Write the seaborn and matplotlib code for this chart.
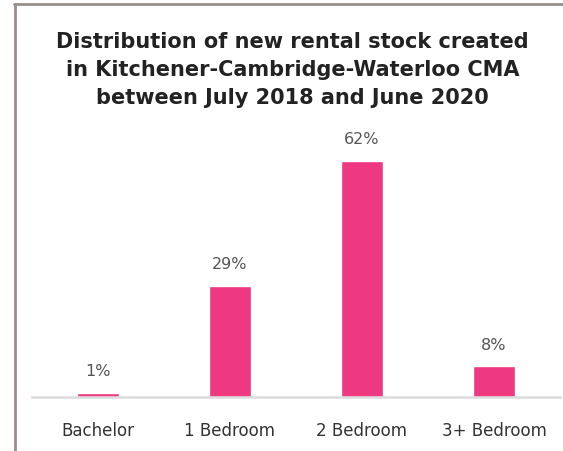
import matplotlib.pyplot as plt
import seaborn as sns
import pandas as pd
from matplotlib.lines import Line2D

# Data
unit_types = ["Bachelor", "1 Bedroom", "2 Bedroom", "3+ Bedroom"]
shares = [1.0, 29, 62, 8]
share_labels = ["1%", "29%", "62%", "8%"]

df = pd.DataFrame({"type": unit_types, "share": shares})

sns.set_style("white")
plt.rcParams['font.family'] = ['DejaVu Sans']

fig = plt.figure(figsize=(5.63, 4.51), dpi=100)
ax = fig.add_axes([32 / 563, 1 - 397 / 451, 528 / 563, 267 / 451])

sns.barplot(data=df, x="type", y="share", color="#EF3882", width=0.32,
            saturation=1, ax=ax)

for i, (v, lab) in enumerate(zip(shares, share_labels)):
    ax.annotate(lab, (i, v), xytext=(0, 10), textcoords="offset points",
                ha="center", va="bottom", fontsize=11.5, color="#555555")

ax.set_xlim(-0.5, 3.5)
ax.set_ylim(0, 70)
ax.set_xlabel("")
ax.set_ylabel("")
ax.set_yticks([])
for s in ["top", "right", "left"]:
    ax.spines[s].set_visible(False)
ax.spines["bottom"].set_color("#dcdcdc")
ax.spines["bottom"].set_linewidth(1.8)
ax.tick_params(axis="x", length=0, pad=18, labelsize=12, labelcolor="#333333")

fig.text(0.52, 1 - 32 / 451,
         "Distribution of new rental stock created\n"
         "in Kitchener-Cambridge-Waterloo CMA\n"
         "between July 2018 and June 2020",
         ha="center", va="top", fontsize=15, fontweight="bold",
         color="#222222", linespacing=1.5)

# frame lines
fig.add_artist(Line2D([15 / 563, 15 / 563], [0, 1 - 4 / 451],
                      transform=fig.transFigure, color="#9b8e8e", lw=2))
fig.add_artist(Line2D([14 / 563, 1], [1 - 4 / 451, 1 - 4 / 451],
                      transform=fig.transFigure, color="#9b8e8e", lw=2))

fig.savefig("out.png", dpi=100)
